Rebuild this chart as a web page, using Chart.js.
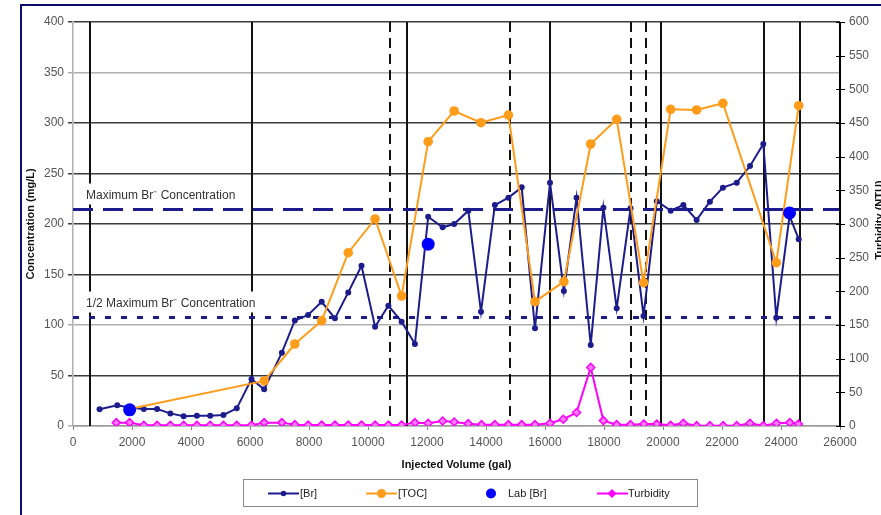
<!DOCTYPE html>
<html>
<head>
<meta charset="utf-8">
<script src="https://cdn.jsdelivr.net/npm/chart.js@4/dist/chart.umd.min.js"></script>
<style>
  html, body { margin: 0; padding: 0; background: #fff; overflow: hidden; }
  #wrap { position: relative; width: 881px; height: 515px; }
</style>
</head>
<body>
<div id="wrap"><canvas id="c" width="881" height="515"></canvas></div>
<script>
const FONT = "'Liberation Sans', Arial, sans-serif";

// Bromide field readings: injected volume (gal) and concentration (mg/L)
const brVolume = [900, 1500, 1950, 2400, 2850, 3300, 3750, 4200, 4650, 5100, 5550, 6050, 6480, 7080, 7520,
  7970, 8430, 8880, 9330, 9780, 10240, 10690, 11140, 11590, 12040, 12530, 12920, 13400, 13830, 14300,
  14760, 15210, 15660, 16170, 16640, 17070, 17550, 17980, 18430, 18900, 19340, 19790, 20260, 20690,
  21140, 21590, 22030, 22500, 22950, 23400, 23840, 24290, 24600];
const brConc = [16.5, 20.5, 18, 16.8, 16.8, 12.5, 9.6, 10.2, 10.2, 10.9, 17.5, 46.5, 36.3, 72.6, 104.5,
  109.9, 123, 106.6, 132.3, 158.7, 98.3, 119.1, 103.3, 81.2, 207.2, 196.7, 200, 213.2, 113, 218.8,
  226.1, 236.3, 96.7, 240.9, 133.7, 226.1, 80.2, 216.2, 116.5, 215.5, 109, 222.5, 213.2, 218.8,
  204, 222.1, 236, 240.9, 257.4, 279.2, 107.2, 208, 185];

// Total organic carbon (mg/L)
const tocVolume = [1950, 6480, 7520, 8430, 9330, 10240, 11140, 12040, 12920, 13830, 14760, 15660,
  16640, 17550, 18430, 19340, 20260, 21140, 22030, 23840, 24600];
const tocConc = [17, 44.6, 81.2, 104.3, 171.6, 205, 128.7, 281.5, 311.9, 300.3, 307.9, 123.1,
  142.9, 279.2, 303.6, 141.9, 313.5, 312.9, 319.5, 161.7, 317.1];

// Laboratory bromide confirmations (mg/L)
const labVolume = [1920, 12040, 24290];
const labConc = [16, 180, 211];

// Turbidity (NTU, right axis)
const turbVolume = [1470, 1920, 2400, 2850, 3300, 3750, 4200, 4650, 5100, 5550, 6050, 6480, 7080, 7520,
  7970, 8430, 8880, 9330, 9780, 10240, 10690, 11140, 11590, 12040, 12530, 12920, 13400, 13850, 14300,
  14760, 15210, 15660, 16170, 16620, 17070, 17550, 17980, 18430, 18900, 19350, 19790, 20260, 20690,
  21140, 21590, 22040, 22500, 22950, 23400, 23850, 24300, 24590];
const turbNtu = [5, 5, 1, 1, 1, 1, 1, 1, 1, 1, 1, 5, 5, 2,
  1.5, 1.5, 1.5, 1.5, 1.5, 1.5, 1.5, 1.5, 5, 4, 7.5, 6, 3.5, 2, 2,
  2, 2, 2, 4, 10, 20, 87, 8, 2, 2, 3, 3, 1, 4,
  0.5, 0.5, 0.5, 0.5, 4, 0.5, 4, 5, 3];

// Event markers along the injected volume axis (gal)
const solidMarkers = [580, 6080, 11320, 16170, 19925, 23430, 24660];
const dashedMarkers = [10750, 14800, 18930, 19410];

// Bromide limits (mg/L)
const maxBr = 215;
const halfMaxBr = maxBr / 2;

// Axis ranges and tick steps
const xRange = [0, 26000], xStep = 2000;
const yRange = [0, 400], yStep = 50;
const y2Range = [0, 600], y2Step = 50;
const darkGridValues = [50, 150, 200, 250, 300, 400];

const seriesNames = ['[Br]', '[TOC]', 'Lab [Br]', 'Turbidity'];

const pairs = (xs, ys) => xs.map((v, i) => ({ x: v, y: ys[i] }));

const NAVY = '#1c1c8c';
const ORANGE = '#ff9c1a';
const BLUE = '#0000ff';
const MAGENTA = '#ff00ff';

const overlay = {
  id: 'overlay',
  beforeDatasetsDraw(chart) {
    const { ctx, chartArea: a, scales: { x, y } } = chart;
    const seg = (x1, y1, x2, y2) => { ctx.beginPath(); ctx.moveTo(x1, y1); ctx.lineTo(x2, y2); ctx.stroke(); };
    ctx.save();
    ctx.strokeStyle = '#111';
    ctx.lineWidth = 2;
    ctx.setLineDash([]);
    solidMarkers.forEach(v => { const p = Math.round(x.getPixelForValue(v)); seg(p, a.top, p, a.bottom); });
    ctx.setLineDash([10, 6]);
    dashedMarkers.forEach(v => { const p = Math.round(x.getPixelForValue(v)); seg(p, a.top, p, a.bottom); });

    // bromide limit lines
    ctx.strokeStyle = NAVY;
    ctx.lineWidth = 3;
    const yMax = Math.round(y.getPixelForValue(maxBr)) + 0.5;
    const yHalf = Math.round(y.getPixelForValue(halfMaxBr)) + 0.5;
    ctx.setLineDash([20, 10]);
    seg(a.left, yMax, a.right, yMax);
    ctx.setLineDash([6, 10]);
    seg(a.left, yHalf, a.right, yHalf);
    ctx.setLineDash([]);

    // limit captions on white boxes
    ctx.font = '12px ' + FONT;
    ctx.textBaseline = 'middle';
    ctx.textAlign = 'left';
    const caption = (txt, lineY) => {
      const tx = a.left + 13;
      const w = ctx.measureText(txt).width;
      ctx.fillStyle = '#fff';
      ctx.fillRect(tx - 4, lineY - 26, w + 18, 21);
      ctx.fillStyle = '#333';
      ctx.fillText(txt, tx, lineY - 14);
    };
    caption('Maximum Br\u207B Concentration', yMax);
    caption('1/2 Maximum Br\u207B Concentration', yHalf);
    ctx.restore();
  },
  afterDraw(chart) {
    const { ctx, chartArea: a, scales: { y2 } } = chart;
    ctx.save();
    // right axis with crossing tick marks
    ctx.strokeStyle = '#000';
    ctx.lineWidth = 2;
    ctx.beginPath(); ctx.moveTo(a.right, a.top); ctx.lineTo(a.right, a.bottom + 1); ctx.stroke();
    ctx.lineWidth = 1;
    y2.ticks.forEach(t => {
      const p = Math.round(y2.getPixelForValue(t.value)) + 0.5;
      ctx.beginPath(); ctx.moveTo(a.right - 4, p); ctx.lineTo(a.right + 5, p); ctx.stroke();
    });

    // axis titles
    ctx.fillStyle = '#111';
    ctx.font = 'bold 11px ' + FONT;
    ctx.textAlign = 'center';
    ctx.textBaseline = 'middle';
    ctx.fillText('Injected Volume (gal)', (a.left + a.right) / 2, 465);
    ctx.save();
    ctx.translate(31, (a.top + a.bottom) / 2);
    ctx.rotate(-Math.PI / 2);
    ctx.fillText('Concentration (mg/L)', 0, 0);
    ctx.restore();
    ctx.save();
    ctx.translate(880, (a.top + a.bottom) / 2 - 4);
    ctx.rotate(-Math.PI / 2);
    ctx.fillText('Turbidity (NTU)', 0, 0);
    ctx.restore();

    // legend
    ctx.strokeStyle = '#8a8a8a';
    ctx.lineWidth = 1;
    ctx.strokeRect(243.5, 479.5, 454, 27);
    const ly = 493.5;
    ctx.font = '11px ' + FONT;
    ctx.textAlign = 'left';
    ctx.fillStyle = '#222';
    const sample = (x0, color, width) => {
      ctx.strokeStyle = color; ctx.lineWidth = width;
      ctx.beginPath(); ctx.moveTo(x0, ly); ctx.lineTo(x0 + 31, ly); ctx.stroke();
    };
    const dot = (cx, r, color) => { ctx.fillStyle = color; ctx.beginPath(); ctx.arc(cx, ly, r, 0, Math.PI * 2); ctx.fill(); };
    sample(268, NAVY, 2); dot(283.5, 2.8, NAVY);
    sample(366, ORANGE, 2); dot(381.5, 4.5, ORANGE);
    dot(491, 5, BLUE);
    sample(597, MAGENTA, 2);
    ctx.fillStyle = MAGENTA;
    ctx.beginPath(); ctx.moveTo(612, ly - 4.5); ctx.lineTo(616.5, ly); ctx.lineTo(612, ly + 4.5); ctx.lineTo(607.5, ly); ctx.closePath(); ctx.fill();
    ctx.fillStyle = '#222';
    ctx.fillText(seriesNames[0], 300, ly);
    ctx.fillText(seriesNames[1], 398, ly);
    ctx.fillText(seriesNames[2], 508, ly);
    ctx.fillText(seriesNames[3], 628, ly);

    // outer frame
    ctx.strokeStyle = '#0c0c6e';
    ctx.lineWidth = 2;
    ctx.beginPath(); ctx.moveTo(881, 5); ctx.lineTo(21, 5); ctx.lineTo(21, 515); ctx.stroke();
    ctx.restore();
  }
};

new Chart(document.getElementById('c'), {
  type: 'scatter',
  data: {
    datasets: [
      { label: seriesNames[0], data: pairs(brVolume, brConc), yAxisID: 'y', showLine: true,
        borderColor: NAVY, backgroundColor: NAVY, borderWidth: 2, pointRadius: 3, pointBorderWidth: 0, order: 4 },
      { label: seriesNames[1], data: pairs(tocVolume, tocConc), yAxisID: 'y', showLine: true,
        borderColor: ORANGE, backgroundColor: ORANGE, borderWidth: 2, pointRadius: 4.8, pointBorderWidth: 0, order: 3 },
      { label: seriesNames[2], data: pairs(labVolume, labConc), yAxisID: 'y', showLine: false,
        borderColor: BLUE, backgroundColor: BLUE, pointRadius: 6.5, pointBorderWidth: 0, order: 1 },
      { label: seriesNames[3], data: pairs(turbVolume, turbNtu), yAxisID: 'y2', showLine: true,
        borderColor: MAGENTA, backgroundColor: '#ff7fff', borderWidth: 2, pointStyle: 'rectRot',
        pointRadius: 4, pointBorderWidth: 1.5, pointBorderColor: MAGENTA, order: 2 }
    ]
  },
  options: {
    responsive: false,
    animation: false,
    devicePixelRatio: 1,
    layout: { padding: { left: 0, right: 0, top: 22, bottom: 0 } },
    plugins: { legend: { display: false }, tooltip: { enabled: false } },
    elements: { line: { tension: 0 } },
    scales: {
      x: {
        type: 'linear', position: 'bottom', min: xRange[0], max: xRange[1],
        ticks: { stepSize: xStep, color: '#555', font: { size: 12, family: FONT }, padding: 5, maxRotation: 0, autoSkip: false,
          callback: v => String(v) },
        grid: { drawOnChartArea: false, drawTicks: true, tickLength: 4, color: '#888' },
        border: { display: true, color: '#999', width: 1.5 },
        afterFit: s => { s.height = 89; }
      },
      y: {
        type: 'linear', position: 'left', min: yRange[0], max: yRange[1],
        ticks: { stepSize: yStep, color: '#555', font: { size: 12, family: FONT }, padding: 4, callback: v => String(v) },
        grid: {
          tickLength: 5,
          lineWidth: 1.5,
          color: c => (c.tick && darkGridValues.includes(c.tick.value)) ? '#3c3c3c' : '#b0b0b0'
        },
        border: { display: true, color: '#b0b0b0', width: 1.5 },
        afterFit: s => { s.width = 73; }
      },
      y2: {
        type: 'linear', position: 'right', min: y2Range[0], max: y2Range[1],
        ticks: { stepSize: y2Step, color: '#555', font: { size: 12, family: FONT }, padding: 4, callback: v => String(v) },
        grid: { drawOnChartArea: false, drawTicks: true, tickLength: 5, color: 'rgba(0,0,0,0)' },
        border: { display: false },
        afterFit: s => { s.width = 41; }
      }
    }
  },
  plugins: [overlay]
});
</script>
</body>
</html>
